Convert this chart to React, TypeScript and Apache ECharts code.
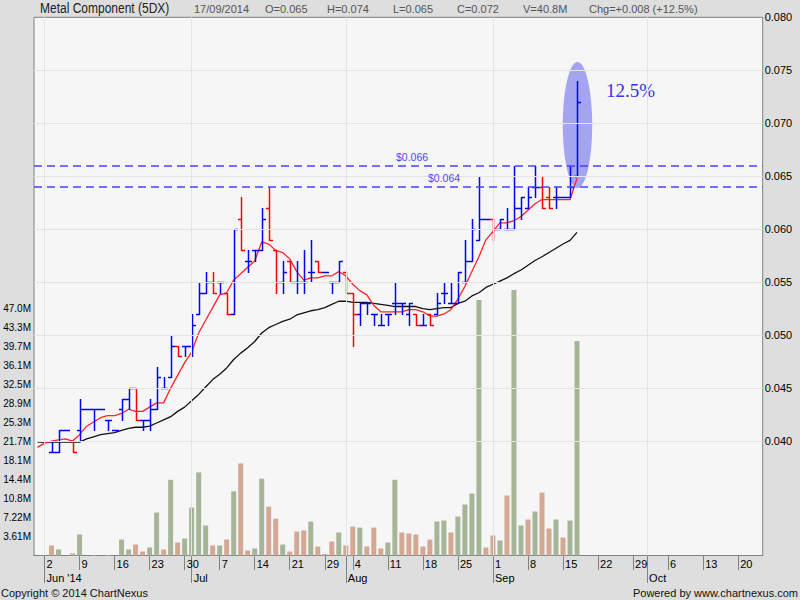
import React, { useEffect, useRef } from 'react';
import * as echarts from 'echarts';

// ---- categories: trading days (May 30 2014 .. Oct 23 2014) ----
const MONTH_DAYS: [number, number[]][] = [
  [5, [30]],
  [6, [2, 3, 4, 5, 6, 9, 10, 11, 12, 13, 16, 17, 18, 19, 20, 23, 24, 25, 26, 27, 30]],
  [7, [1, 2, 3, 4, 7, 8, 9, 10, 11, 14, 15, 16, 17, 18, 21, 22, 23, 24, 25, 29, 30, 31]],
  [8, [1, 4, 5, 6, 7, 8, 11, 12, 13, 14, 15, 18, 19, 20, 21, 22, 25, 26, 27, 28, 29]],
  [9, [1, 2, 3, 4, 5, 8, 9, 10, 11, 12, 15, 16, 17, 18, 19, 22, 23, 24, 25, 26, 29, 30]],
  [10, [1, 2, 3, 6, 7, 8, 9, 10, 13, 14, 15, 16, 17, 20, 21, 22, 23]],
];
const MONTH_LABELS = ["Jun '14", 'Jul', 'Aug', 'Sep', 'Oct']; // June .. October
const VOL_TICK_LABELS = ['3.61M', '7.22M', '10.8M', '14.4M', '18.1M', '21.7M', '25.3M', '28.9M', '32.5M', '36.1M', '39.7M', '43.3M', '47.0M'];
const VOL_TICK_STEP = 3.612;
const PRICE_TICKS = [0.04, 0.045, 0.05, 0.055, 0.06, 0.065, 0.07, 0.075, 0.08];

// ---- OHLC from Jun 2 2014 (null = no trade) ----
const OPEN = [null, 0.039, 0.039, 0.041, 0.040, 0.041, 0.043, 0.043, 0.043, 0.042, 0.041, 0.043, 0.044, 0.045, 0.042, 0.042, 0.043, 0.045, 0.046, 0.049, 0.049,
  0.049, 0.052, 0.054, 0.055, 0.055, 0.054, 0.052, 0.061, 0.057, 0.058, 0.058, 0.062, 0.058, 0.055, 0.057, 0.055, 0.055, 0.056, 0.057, 0.056, 0.055, 0.055,
  0.056, 0.054, 0.052, 0.053, 0.052, 0.051, 0.052, 0.053, 0.053, 0.052, 0.052, 0.051, 0.052, 0.052, 0.054, 0.053, 0.053, 0.055, 0.057, 0.059, 0.061,
  0.061, 0.060, 0.060, 0.060, 0.062, 0.062, 0.064, 0.064, 0.063, 0.063, 0.063, 0.063, 0.065];
const HIGH = [null, 0.040, 0.041, 0.041, 0.040, 0.044, 0.043, 0.043, 0.043, 0.042, 0.041, 0.044, 0.045, 0.045, 0.042, 0.044, 0.047, 0.046, 0.050, 0.049, 0.049,
  0.052, 0.055, 0.056, 0.056, 0.055, 0.054, 0.060, 0.063, 0.058, 0.058, 0.062, 0.064, 0.058, 0.057, 0.057, 0.057, 0.058, 0.059, 0.057, 0.056, 0.055, 0.057,
  0.056, 0.054, 0.053, 0.053, 0.052, 0.052, 0.052, 0.055, 0.053, 0.053, 0.052, 0.052, 0.052, 0.054, 0.055, 0.055, 0.056, 0.059, 0.061, 0.065, 0.061,
  0.061, 0.061, 0.062, 0.066, 0.063, 0.064, 0.066, 0.065, 0.064, 0.064, 0.063, 0.066, 0.074];
const LOW = [null, 0.039, 0.039, 0.041, 0.039, 0.040, 0.043, 0.041, 0.043, 0.041, 0.041, 0.042, 0.043, 0.042, 0.041, 0.041, 0.043, 0.045, 0.046, 0.048, 0.048,
  0.048, 0.052, 0.054, 0.054, 0.054, 0.052, 0.052, 0.058, 0.056, 0.057, 0.058, 0.059, 0.054, 0.054, 0.055, 0.054, 0.054, 0.055, 0.056, 0.056, 0.054, 0.055,
  0.054, 0.049, 0.051, 0.052, 0.051, 0.051, 0.051, 0.052, 0.052, 0.051, 0.051, 0.051, 0.051, 0.052, 0.053, 0.053, 0.053, 0.055, 0.057, 0.059, 0.061,
  0.059, 0.060, 0.060, 0.060, 0.061, 0.062, 0.063, 0.062, 0.062, 0.062, 0.063, 0.063, 0.065];
const CLOSE = [0.040, 0.039, 0.041, 0.041, 0.039, 0.043, 0.043, 0.043, 0.043, 0.042, 0.041, 0.044, 0.045, 0.042, 0.042, 0.043, 0.046, 0.045, 0.049, 0.048, 0.049,
  0.051, 0.054, 0.055, 0.054, 0.055, 0.052, 0.060, 0.058, 0.057, 0.058, 0.061, 0.059, 0.055, 0.056, 0.055, 0.055, 0.055, 0.056, 0.056, 0.056, 0.055, 0.057,
  0.054, 0.052, 0.053, 0.053, 0.052, 0.051, 0.052, 0.053, 0.053, 0.053, 0.051, 0.051, 0.051, 0.053, 0.054, 0.053, 0.056, 0.057, 0.060, 0.061, 0.061,
  0.060, 0.061, 0.060, 0.062, 0.063, 0.063, 0.064, 0.062, 0.062, 0.063, 0.063, 0.064, 0.072];
// volume (millions) from Jun 2 2014
const VOLUME = [null, 1.9, 1.14, 0, 0.4, 4.0, 0, 0.1, 0, 0.1, 0, 3.04, 1.14, 2.09, 0.76, 1.52, 8.17, 1.14, 14.4, 2.47, 3.23,
  9.12, 15.8, 5.7, 1.9, 1.9, 3.04, 12.2, 17.5, 0.95, 1.33, 14.6, 9.3, 7.0, 2.09, 0.76, 4.56, 4.75, 6.46, 1.71, 0.3, 2.66, 4.37,
  1.9, 5.5, 5.3, 1.71, 5.3, 1.33, 2.47, 14.4, 4.37, 4.18, 3.99, 1.71, 3.04, 6.46, 6.65, 4.37, 7.41, 9.69, 11.78, 48.6, 1.52,
  3.8, 2.85, 11.4, 50.5, 5.7, 6.84, 8.36, 11.97, 5.13, 6.84, 3.42, 6.65, 40.8];
// moving averages from May 30 2014
const MA_SHORT = [0.0394, 0.0398, 0.0400, 0.0401, 0.0402, 0.0400, 0.0406, 0.0414, 0.0418, 0.0422, 0.0424, 0.0424, 0.0426, 0.0430, 0.0428, 0.0428, 0.0432, 0.0436, 0.0436, 0.0450, 0.0462, 0.0474,
  0.0484, 0.0502, 0.0514, 0.0526, 0.0538, 0.0540, 0.0552, 0.0558, 0.0564, 0.0570, 0.0588, 0.0586, 0.0580, 0.0578, 0.0572, 0.0560, 0.0552, 0.0554, 0.0554, 0.0556, 0.0556, 0.0560,
  0.0556, 0.0548, 0.0542, 0.0538, 0.0528, 0.0522, 0.0522, 0.0522, 0.0522, 0.0524, 0.0524, 0.0522, 0.0518, 0.0518, 0.0520, 0.0524, 0.0534, 0.0546, 0.0560, 0.0574, 0.0590,
  0.0598, 0.0606, 0.0606, 0.0608, 0.0612, 0.0618, 0.0624, 0.0628, 0.0628, 0.0628, 0.0628, 0.0628, 0.0648];
const MA_LONG = [0.0399, 0.0399, 0.0399, 0.0399, 0.0399, 0.0399, 0.0399, 0.0402, 0.0404, 0.0406, 0.0407, 0.0408, 0.0410, 0.0412, 0.0413, 0.0413, 0.0414, 0.0417, 0.0420, 0.0423, 0.0428, 0.0432,
  0.0438, 0.0444, 0.0451, 0.0458, 0.0463, 0.0469, 0.0477, 0.0483, 0.0488, 0.0494, 0.0502, 0.0507, 0.0510, 0.0513, 0.0515, 0.0519, 0.0521, 0.0523, 0.0524, 0.0526, 0.0529, 0.0532,
  0.0532, 0.0531, 0.0531, 0.0531, 0.0530, 0.0529, 0.0528, 0.0527, 0.0527, 0.0527, 0.0527, 0.0525, 0.0524, 0.0525, 0.0526, 0.0526, 0.0530, 0.0532, 0.0537, 0.0540, 0.0545,
  0.0548, 0.0551, 0.0554, 0.0558, 0.05615, 0.0566, 0.05705, 0.0574, 0.0578, 0.0582, 0.0586, 0.05895, 0.0597];

const RESISTANCE = [{ value: 0.066, label: '$0.066' }, { value: 0.064, label: '$0.064' }];
const SPIKE_RANGE = [0.0758, 0.0639];
const SPIKE_TEXT = '12.5%';
const HEADER_TITLE = 'Metal Component (5DX)';
const HEADER_ITEMS = ['17/09/2014', 'O=0.065', 'H=0.074', 'L=0.065', 'C=0.072', 'V=40.8M', 'Chg=+0.008 (+12.5%)'];

const CATEGORIES: string[] = [];
MONTH_DAYS.forEach(([m, days]) => days.forEach((d) => CATEGORIES.push(`2014-${String(m).padStart(2, '0')}-${String(d).padStart(2, '0')}`)));
const DATE_OBJS = CATEGORIES.map((s) => new Date(s + 'T00:00:00'));
const WEEK_START = CATEGORIES.map((_, i) => i > 0 && (DATE_OBJS[i].getDay() < DATE_OBJS[i - 1].getDay() || (DATE_OBJS[i].getTime() - DATE_OBJS[i - 1].getTime()) > 6 * 864e5));
const MONTH_START = CATEGORIES.map((_, i) => i > 0 && DATE_OBJS[i].getMonth() !== DATE_OBJS[i - 1].getMonth());
const OFFSET = 1; // category index of Jun 2

const FONT = "'Liberation Sans', Arial, sans-serif";
const PRICE_MIN = 0.02919;
const PRICE_MAX = 0.08;

export default function App() {
  const ref = useRef<HTMLDivElement>(null);
  useEffect(() => {
    if (!ref.current) return;
    const chart = echarts.init(ref.current, undefined, { renderer: 'svg' });
    const nulls = CATEGORIES.map(() => null);

    const ohlc = OPEN.map((o, j) => (o == null ? null : [j + OFFSET, o, HIGH[j], LOW[j], CLOSE[j]])).filter((d) => d);
    const vol = CATEGORIES.map((_, i) => {
      const j = i - OFFSET;
      if (j < 0 || j >= VOLUME.length || VOLUME[j] == null) return null;
      const up = j > 0 && CLOSE[j] > CLOSE[j - 1];
      return { value: VOLUME[j], itemStyle: { color: up ? '#a6b598' : '#d3a895' } };
    });
    const maS = CATEGORIES.map((_, i) => (i < MA_SHORT.length ? MA_SHORT[i] : null));
    const maL = CATEGORIES.map((_, i) => (i < MA_LONG.length ? MA_LONG[i] : null));
    const spikeIdx = CLOSE.length - 1 + OFFSET;

    const option: any = {
      animation: false,
      backgroundColor: '#dedede',
      textStyle: { fontFamily: FONT },
      grid: { left: 34, right: 37.3, top: 17.3, bottom: 44.5, show: true, backgroundColor: '#f6f6f6', borderColor: '#7a8484', borderWidth: 1 },
      xAxis: [
        {
          type: 'category', data: CATEGORIES, boundaryGap: true, position: 'bottom',
          axisLine: { show: true, onZero: false, lineStyle: { color: '#7a8484' } },
          axisTick: { show: true, alignWithLabel: true, interval: (i: number) => WEEK_START[i], length: 14.5, lineStyle: { color: '#7a8484' } },
          axisLabel: { interval: (i: number) => WEEK_START[i], formatter: (v: string) => String(Number(v.slice(8))), align: 'left', padding: [0, 0, 0, 2], margin: 3, fontSize: 11, color: '#000' },
          splitLine: { show: false },
        },
        {
          type: 'category', data: CATEGORIES, boundaryGap: true, position: 'bottom',
          axisLine: { show: false, onZero: false },
          axisTick: { show: true, alignWithLabel: true, interval: (i: number) => MONTH_START[i], length: 27.5, lineStyle: { color: '#7a8484' } },
          axisLabel: { interval: (i: number) => MONTH_START[i], formatter: (v: string) => MONTH_LABELS[Number(v.slice(5, 7)) - 6] || '', align: 'left', padding: [0, 0, 0, 2], margin: 16.5, fontSize: 11, color: '#000' },
          splitLine: { show: false },
        },
      ],
      yAxis: [
        { type: 'value', position: 'right', min: PRICE_MIN, max: PRICE_MAX + 0.00001, show: false, splitLine: { show: false } },
        {
          type: 'value', position: 'left', min: 0, max: 102.33, interval: VOL_TICK_STEP,
          axisLine: { show: false }, axisTick: { show: false }, splitLine: { show: false },
          axisLabel: {
            margin: 3, fontSize: 10, color: '#000',
            formatter: (v: number) => { const k = Math.round(v / VOL_TICK_STEP); return k >= 1 && k <= VOL_TICK_LABELS.length ? VOL_TICK_LABELS[k - 1] : ''; },
          },
        },
      ],
      series: [
        {
          type: 'line', xAxisIndex: 0, yAxisIndex: 0, data: nulls, z: 1, silent: true, showSymbol: false,
          markLine: {
            silent: true, symbol: ['none', 'none'], animation: false, precision: 5,
            lineStyle: { color: '#e4e4e4', width: 1, type: 'solid' },
            label: { show: false },
            data: [
              ...PRICE_TICKS.map((v) => ({
                yAxis: v,
                label: { show: true, position: 'end', formatter: v.toFixed(3), color: '#000', fontSize: 11, distance: 2, fontFamily: FONT },
                lineStyle: { color: v >= PRICE_MAX ? 'rgba(0,0,0,0)' : '#e4e4e4', width: 1, type: 'solid' },
              })),
              ...CATEGORIES.filter((_, i) => MONTH_START[i]).map((c) => ({ xAxis: c })),
            ],
          },
        },
        {
          type: 'bar', xAxisIndex: 0, yAxisIndex: 1, data: vol, barWidth: 5, z: 2, silent: true,
        },
        {
          type: 'custom', xAxisIndex: 0, yAxisIndex: 0, z: 2, silent: true,
          data: [[spikeIdx, SPIKE_RANGE[0], SPIKE_RANGE[1]]],
          renderItem: (params: any, api: any) => {
            const t = api.coord([api.value(0), api.value(1)]);
            const b = api.coord([api.value(0), api.value(2)]);
            const cx = Math.round(t[0]) + 0.5;
            const cy = (t[1] + b[1]) / 2;
            const ry = (b[1] - t[1]) / 2;
            return {
              type: 'group',
              children: [
                { type: 'ellipse', shape: { cx, cy, rx: 14.7, ry }, style: { fill: 'rgba(88,88,236,0.52)' } },
                { type: 'text', x: cx + 28.5, y: cy - 34.5, style: { text: SPIKE_TEXT, fill: '#3535e6', font: "19px 'Liberation Serif', 'Times New Roman', serif", verticalAlign: 'middle', align: 'left' } },
              ],
            };
          },
        },
        {
          type: 'line', xAxisIndex: 0, yAxisIndex: 0, data: maL, z: 3, showSymbol: false, silent: true, connectNulls: false,
          lineStyle: { color: '#111', width: 1.3 },
        },
        {
          type: 'line', xAxisIndex: 0, yAxisIndex: 0, data: maS, z: 3, showSymbol: false, silent: true, connectNulls: false,
          lineStyle: { color: '#ff2424', width: 1.3 },
        },
        {
          type: 'custom', xAxisIndex: 0, yAxisIndex: 0, z: 4, silent: true,
          data: ohlc, encode: { x: 0, y: [1, 2, 3, 4] },
          renderItem: (params: any, api: any) => {
            const x = api.value(0);
            const o = api.value(1), h = api.value(2), l = api.value(3), c = api.value(4);
            const ph = api.coord([x, h]), pl = api.coord([x, l]), po = api.coord([x, o]), pc = api.coord([x, c]);
            const cx = Math.round(ph[0]) + 0.5;
            const r = (y: number) => Math.round(y) + 0.5;
            const col = c >= o ? '#0000ff' : '#ff0000';
            const st = () => ({ stroke: col, lineWidth: 1.5, fill: null });
            return {
              type: 'group',
              children: [
                { type: 'line', shape: { x1: cx, y1: r(ph[1]) - 0.5, x2: cx, y2: r(pl[1]) + 0.5 }, style: st() },
                { type: 'line', shape: { x1: cx - 3.5, y1: r(po[1]), x2: cx, y2: r(po[1]) }, style: st() },
                { type: 'line', shape: { x1: cx, y1: r(pc[1]), x2: cx + 3.5, y2: r(pc[1]) }, style: st() },
              ],
            };
          },
        },
        {
          type: 'line', xAxisIndex: 0, yAxisIndex: 0, data: nulls, z: 5, silent: true, showSymbol: false,
          markLine: {
            silent: true, symbol: ['none', 'none'], animation: false, precision: 5,
            lineStyle: { color: '#4444ff', width: 1.5, type: [8, 5] },
            data: RESISTANCE.map((r, k) => ({
              yAxis: r.value,
              label: { show: true, position: 'insideStartTop', formatter: r.label, color: '#4a4aff', fontSize: 10.5, distance: [k === 0 ? 362 : 394, 3], fontFamily: FONT },
            })),
          },
        },
      ],
      graphic: [
        { type: 'text', x: 40, y: 8.5, scaleX: 0.8, style: { text: HEADER_TITLE, font: `15px ${FONT}`, fill: '#222', verticalAlign: 'middle' } },
        ...HEADER_ITEMS.map((t, k) => ({
          type: 'text', x: [194, 265, 327, 393, 457, 523, 589][k], y: 9,
          style: { text: t, font: `11px ${FONT}`, fill: '#555', verticalAlign: 'middle' },
        })),
        { type: 'text', x: 1, y: 593, style: { text: 'Copyright © 2014 ChartNexus', font: `11px ${FONT}`, fill: '#111', verticalAlign: 'middle' } },
        { type: 'text', x: 798, y: 593, style: { text: 'Powered by www.chartnexus.com', font: `11px ${FONT}`, fill: '#111', verticalAlign: 'middle', align: 'right' } },
      ],
    };
    chart.setOption(option);
    return () => chart.dispose();
  }, []);
  return <div ref={ref} style={{ position: 'fixed', left: 0, top: 0, width: 800, height: 600 }} />;
}
